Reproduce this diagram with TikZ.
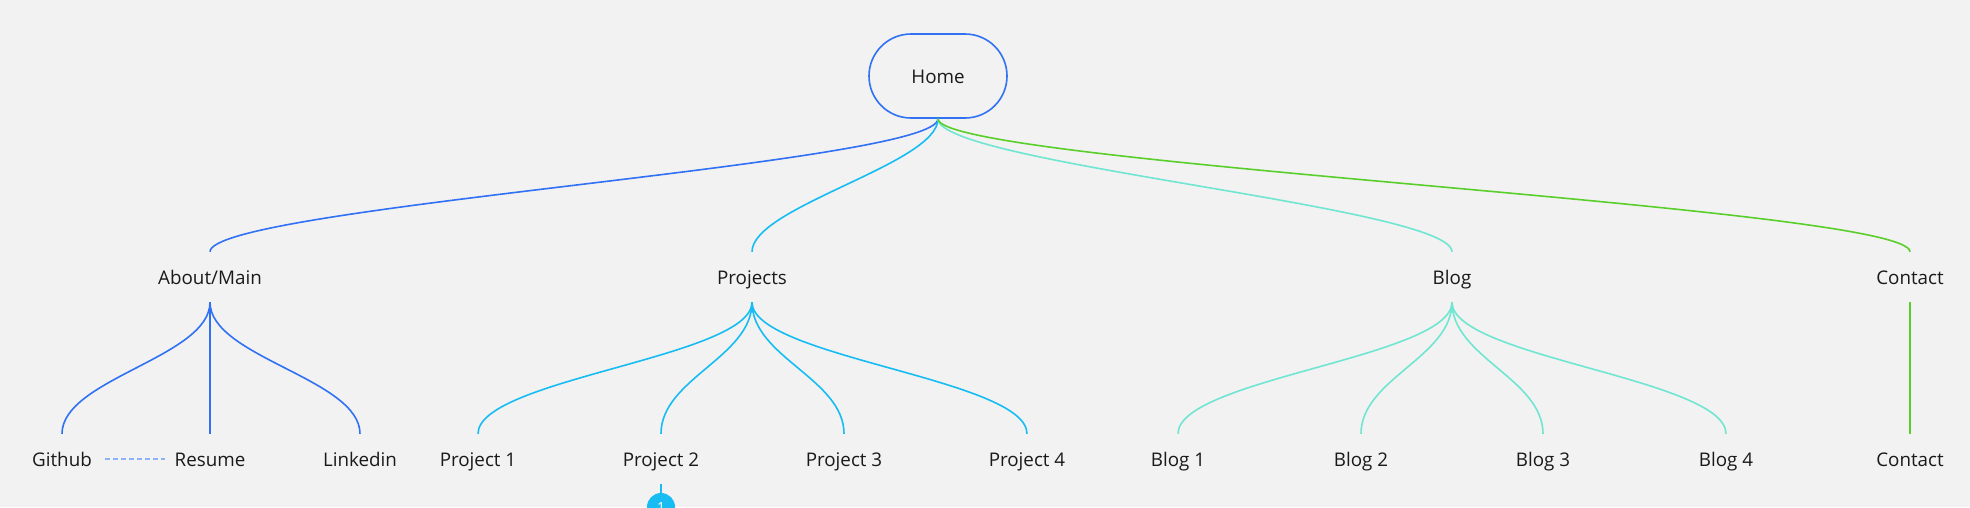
\documentclass[tikz,border=0pt]{standalone}
\usepackage{fontspec}
\setmainfont{Open Sans}
\usepackage{xcolor}
\definecolor{bgcol}{HTML}{F2F2F2}
\definecolor{txtcol}{HTML}{1A1A1A}
\definecolor{aboutcol}{HTML}{3171F4}
\definecolor{projcol}{HTML}{17BDF2}
\definecolor{blogcol}{HTML}{70E6D2}
\definecolor{contcol}{HTML}{5ACF2B}
\definecolor{dashcol}{HTML}{8CB2F7}

\begin{document}
\begin{tikzpicture}[x=1pt, y=-1pt, font=\fontsize{18.8}{22}\selectfont, text=txtcol,
  page/.style={minimum height=50pt, inner sep=0pt, text height=15pt, text depth=0pt},
  link/.style={line width=1.6pt},
  badge/.style={circle, fill=projcol, text=white, minimum size=28pt, inner sep=0pt, font=\fontsize{14}{16}\selectfont}] %site map
\fill[bgcol] (0,0) rectangle (1970,507);
\useasboundingbox (0,0) rectangle (1970,507);
\node[draw=aboutcol, line width=1.6pt, rounded corners=42pt, minimum width=138pt, minimum height=84pt, text height=15pt, text depth=0pt] (home) at (938,76) {Home};
\node[page] (about) at (210,277) {About/Main};
\node[page] (projects) at (752,277) {Projects};
\node[page] (blog) at (1452,277) {Blog};
\node[page] (contact) at (1910,277) {Contact};
\node[page] (github) at (62,459) {Github};
\node[page] (resume) at (210,459) {Resume};
\node[page] (linkedin) at (360,459) {Linkedin};
\node[page] (proj1) at (478,459) {Project 1};
\node[page] (proj2) at (661,459) {Project 2};
\node[page] (proj3) at (844,459) {Project 3};
\node[page] (proj4) at (1027,459) {Project 4};
\node[page] (blog1) at (1178,459) {Blog 1};
\node[page] (blog2) at (1361,459) {Blog 2};
\node[page] (blog3) at (1543,459) {Blog 3};
\node[page] (blog4) at (1726,459) {Blog 4};
\node[page] (contact2) at (1910,459) {Contact};
\node[badge] (note) at (661,507) {1};
\draw[link, aboutcol] (home.south) .. controls +(0,45) and +(0,-45) .. (about.north);
\draw[link, projcol] (home.south) .. controls +(0,45) and +(0,-45) .. (projects.north);
\draw[link, blogcol] (home.south) .. controls +(0,45) and +(0,-45) .. (blog.north);
\draw[link, contcol] (home.south) .. controls +(0,45) and +(0,-45) .. (contact.north);
\foreach \c in {github, linkedin}
  \draw[link, aboutcol] (about.south) .. controls +(0,55) and +(0,-55) .. (\c.north);
\draw[link, aboutcol] (about.south) -- (resume.north);
\foreach \c in {proj1, proj2, proj3, proj4}
  \draw[link, projcol] (projects.south) .. controls +(0,55) and +(0,-55) .. (\c.north);
\foreach \c in {blog1, blog2, blog3, blog4}
  \draw[link, blogcol] (blog.south) .. controls +(0,55) and +(0,-55) .. (\c.north);
\draw[link, contcol] (contact.south) -- (contact2.north);
\draw[dashcol, line width=1.2pt, dash pattern=on 5pt off 3pt] ([xshift=13pt]github.east) -- ([xshift=-9pt]resume.west);
\draw[projcol, line width=1.2pt] (proj2.south) -- (note.north);
\end{tikzpicture}
\end{document}
